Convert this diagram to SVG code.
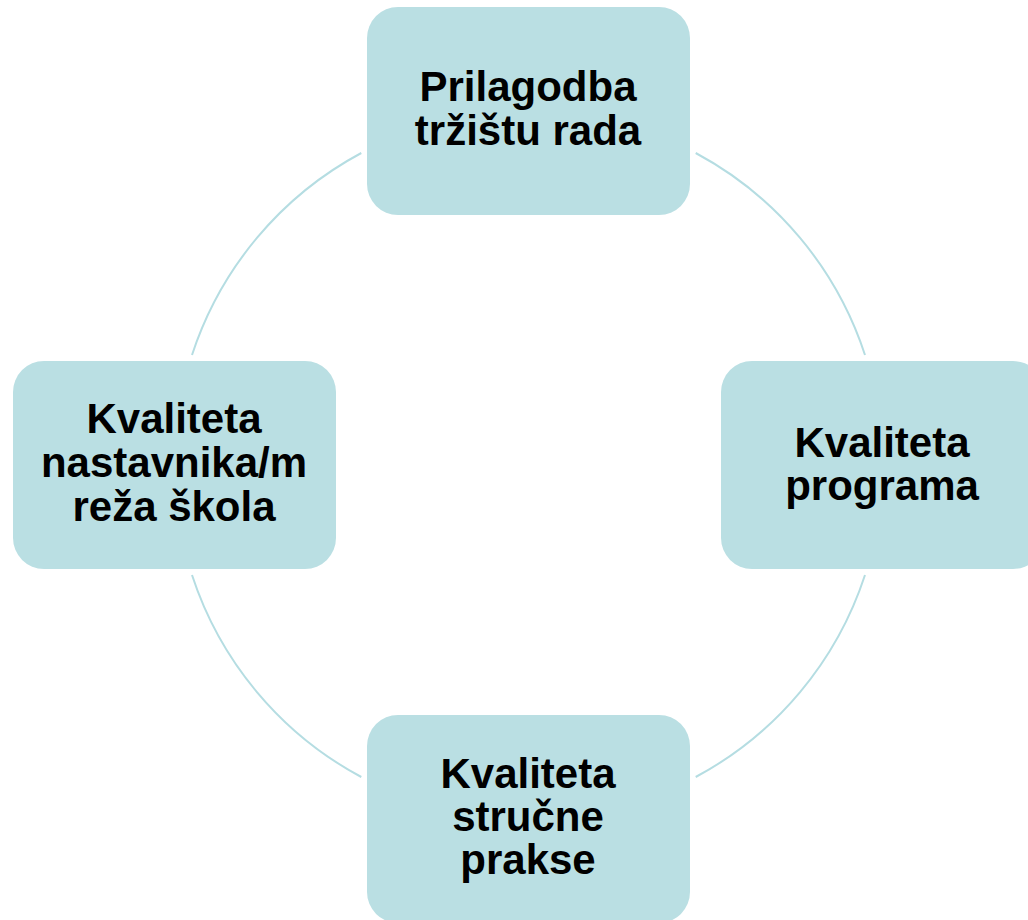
<svg xmlns="http://www.w3.org/2000/svg" width="1028" height="920" viewBox="0 0 1028 920">
<style>
.node{fill:#badfe3;}
.lbl{font-family:"Liberation Sans",Arial,sans-serif;font-weight:bold;font-size:42px;fill:#000;text-anchor:middle;}
.arc{fill:none;stroke:#b5dde2;stroke-width:2;}
</style>
<rect width="1028" height="920" fill="#fff"/>
<g id="connectors">
<path class="arc" d="M361.3,153 A354,354 0 0 0 192,355"/>
<path class="arc" d="M695.7,153 A354,354 0 0 1 865,355"/>
<path class="arc" d="M865,575 A354,354 0 0 1 695.7,777"/>
<path class="arc" d="M192,575 A354,354 0 0 0 361.3,777"/>
</g>
<g id="node-top">
<rect class="node" x="367" y="7" width="323" height="208" rx="31"/>
<text class="lbl" x="528" y="101">Prilagodba</text>
<text class="lbl" x="528" y="145">tržištu rada</text>
</g>
<g id="node-right">
<rect class="node" x="721" y="361" width="323" height="208" rx="31"/>
<text class="lbl" x="882" y="457">Kvaliteta</text>
<text class="lbl" x="882" y="500">programa</text>
</g>
<g id="node-bottom">
<rect class="node" x="367" y="715" width="323" height="208" rx="31"/>
<text class="lbl" x="528" y="788">Kvaliteta</text>
<text class="lbl" x="528" y="831">stručne</text>
<text class="lbl" x="528" y="874">prakse</text>
</g>
<g id="node-left">
<rect class="node" x="13" y="361" width="323" height="208" rx="31"/>
<text class="lbl" x="174" y="433">Kvaliteta</text>
<text class="lbl" x="174" y="477">nastavnika/m</text>
<text class="lbl" x="174" y="521">reža škola</text>
</g>
</svg>
